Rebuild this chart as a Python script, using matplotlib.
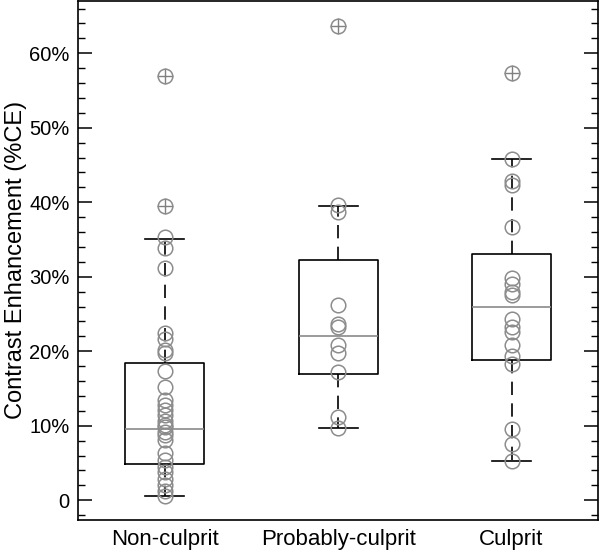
import numpy as np
import matplotlib
matplotlib.use("Agg")
import matplotlib.pyplot as plt
from matplotlib.ticker import FuncFormatter, MultipleLocator

plt.rcParams['font.family'] = ['Liberation Sans', 'DejaVu Sans']

# Groups and the contrast enhancement values (%CE)
groups = ["Non-culprit", "Probably-culprit", "Culprit"]

non_culprit = [57.0, 39.5, 35.3, 33.8, 31.2, 22.4, 21.6, 20.1, 19.7, 17.3,
               15.2, 13.4, 12.8, 12.1, 11.4, 10.7, 10.1, 9.8, 9.2, 8.7,
               8.1, 6.3, 5.4, 4.5, 3.8, 2.9, 2.0, 1.3, 0.6]
probably_culprit = [63.7, 39.6, 38.7, 26.2, 23.7, 23.3, 20.8, 19.7, 17.2,
                    11.2, 9.7]
culprit = [57.4, 45.8, 42.8, 42.3, 36.7, 29.8, 29.0, 28.0, 27.6, 24.3,
           23.3, 22.6, 20.8, 19.4, 18.3, 9.5, 7.5, 5.3]

# Box statistics as drawn in the reference
q1 = [4.8, 17.0, 18.8]
medians = [9.5, 22.0, 25.9]
q3 = [18.4, 32.3, 33.1]
whisker_low = [0.5, 9.7, 5.3]
whisker_high = [35.0, 39.5, 45.8]

data = [non_culprit, probably_culprit, culprit]

stats = []
for i, vals in enumerate(data):
    fl = [v for v in vals if v > whisker_high[i] + 0.5 or v < whisker_low[i] - 0.5]
    stats.append(dict(med=medians[i], q1=q1[i], q3=q3[i],
                      whislo=whisker_low[i], whishi=whisker_high[i],
                      fliers=fl, label=groups[i]))

fig = plt.figure(figsize=(6.0, 5.51), dpi=100)
ax = fig.add_axes([0.13, 0.057, 0.867, 0.941])

positions = np.arange(1, len(groups) + 1)
ax.bxp(stats, positions=positions, widths=0.455, showfliers=True,
       boxprops=dict(color="black", linewidth=1.2),
       medianprops=dict(color="#8a8a8a", linewidth=1.2),
       whiskerprops=dict(color="black", linewidth=1.2, linestyle=(0, (8, 5))),
       capprops=dict(color="black", linewidth=1.2),
       capwidths=0.225,
       flierprops=dict(marker="+", markersize=11, markeredgecolor="#808080",
                       markeredgewidth=1.0))

# Overlay every observation as an open grey circle
for pos, vals in zip(positions, data):
    ax.plot([pos] * len(vals), vals, linestyle="none", marker="o",
            markersize=10.5, markerfacecolor="none",
            markeredgecolor="#8c8c8c", markeredgewidth=1.1, zorder=3)

ax.set_xlim(0.5, 3.5)
ax.set_ylim(-2.6, 67)
ax.yaxis.set_major_locator(MultipleLocator(10))
ax.yaxis.set_minor_locator(MultipleLocator(2))
ax.yaxis.set_major_formatter(FuncFormatter(lambda v, p: "0" if v == 0 else f"{v:.0f}%"))
ax.tick_params(axis="y", which="both", direction="in", right=True, labelsize=14.5, pad=6)
ax.tick_params(axis="y", which="major", length=10, width=1.1)
ax.tick_params(axis="y", which="minor", length=5, width=1.0)
ax.set_xticks(positions)
ax.set_xticklabels(groups, fontsize=16)
ax.tick_params(axis="x", length=0, pad=7)
for s in ax.spines.values():
    s.set_linewidth(1.2)

ax.set_ylabel("Contrast Enhancement (%CE)", fontsize=17, labelpad=2)

fig.savefig("out.png", dpi=100)
